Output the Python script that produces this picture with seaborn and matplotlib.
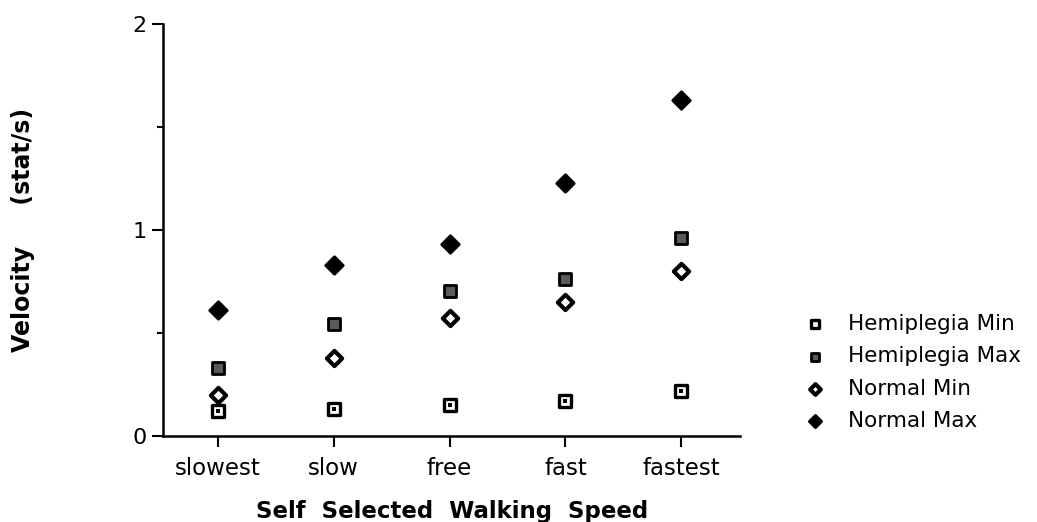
import matplotlib
matplotlib.use("Agg")
import matplotlib.pyplot as plt
import seaborn as sns
import pandas as pd

categories = ["slowest", "slow", "free", "fast", "fastest"]
hemiplegia_min = [0.12, 0.13, 0.15, 0.17, 0.22]
hemiplegia_max = [0.33, 0.545, 0.705, 0.76, 0.96]
normal_min = [0.20, 0.38, 0.57, 0.65, 0.80]
normal_max = [0.61, 0.83, 0.93, 1.23, 1.63]
series_names = ["Hemiplegia Min", "Hemiplegia Max", "Normal Min", "Normal Max"]

rows = []
for name, vals in zip(series_names, [hemiplegia_min, hemiplegia_max, normal_min, normal_max]):
    for i, (c, v) in enumerate(zip(categories, vals)):
        rows.append({"pos": i, "speed": c, "velocity": v, "series": name})
df = pd.DataFrame(rows)

sns.set_theme(style="ticks")
plt.rcParams["font.family"] = ["DejaVu Sans"]
plt.rcParams["text.color"] = "black"
plt.rcParams["axes.labelcolor"] = "black"

fig = plt.figure(figsize=(10.37, 5.22), dpi=100)
ax = fig.add_axes([0.157, 0.165, 0.557, 0.789])

palette = {"Hemiplegia Min": "white", "Hemiplegia Max": "#5a5a5a",
           "Normal Min": "white", "Normal Max": "black"}
markers = {"Hemiplegia Min": "s", "Hemiplegia Max": "s",
           "Normal Min": "D", "Normal Max": "D"}
sizes = {"Hemiplegia Min": 75, "Hemiplegia Max": 80, "Normal Min": 60, "Normal Max": 80}
lws = {"Hemiplegia Min": 2.4, "Hemiplegia Max": 2.0, "Normal Min": 3.0, "Normal Max": 2.0}

for name in series_names:
    sub = df[df["series"] == name]
    sns.scatterplot(data=sub, x="pos", y="velocity", ax=ax, marker=markers[name],
                    color=palette[name], edgecolor="black", linewidth=lws[name],
                    s=sizes[name], label=name, zorder=3)
# inner dot of the hemiplegia min markers
sub = df[df["series"] == "Hemiplegia Min"]
sns.scatterplot(data=sub, x="pos", y="velocity", ax=ax, marker="s", color="black",
                edgecolor="black", s=7, linewidth=0, zorder=4, legend=False)

ax.set_xlim(-0.475, 4.51)
ax.set_ylim(0, 2)
ax.set_xticks(range(len(categories)))
ax.set_xticklabels(categories, fontsize=16.5)
ax.set_yticks([0, 1, 2])
ax.set_yticklabels(["0", "1", "2"], fontsize=16)
ax.set_yticks([0.5, 1.5], minor=True)
ax.tick_params(axis="both", which="major", length=8, width=1.5, color="black", labelcolor="black")
ax.tick_params(axis="x", which="major", pad=7)
ax.tick_params(axis="y", which="minor", length=4, width=1.5, color="black")
for side in ["top", "right"]:
    ax.spines[side].set_visible(False)
for side in ["left", "bottom"]:
    ax.spines[side].set_linewidth(1.8)
    ax.spines[side].set_color("black")

ax.set_xlabel("Self  Selected  Walking  Speed", fontsize=16.5, fontweight="bold")
ax.xaxis.set_label_coords(0.5, -0.155)
ax.set_ylabel("Velocity     (stat/s)", fontsize=17, fontweight="bold")
ax.yaxis.set_label_coords(-0.222, 0.5)

ax.get_legend().remove()
handles, labels = ax.get_legend_handles_labels()
fig.legend(handles[:4], labels[:4], loc="upper left",
           bbox_to_anchor=(804 / 1037, 1 - 314 / 522), frameon=False,
           fontsize=15.5, handlelength=1.0, handletextpad=1.05, labelspacing=0.57,
           borderpad=0, borderaxespad=0, markerscale=0.7)

fig.savefig("out.png", dpi=100, facecolor="white")
